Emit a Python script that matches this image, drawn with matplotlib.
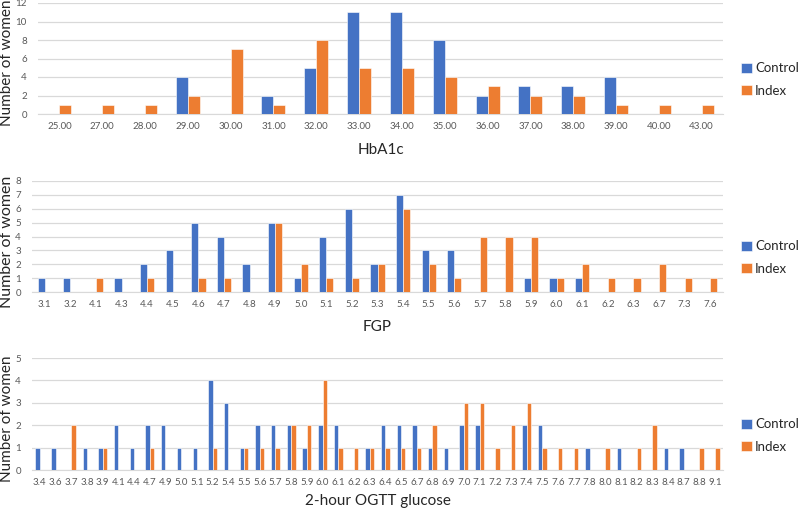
import matplotlib
matplotlib.use("Agg")
import matplotlib.pyplot as plt
import numpy as np

plt.rcParams['font.family'] = ['Lato', 'DejaVu Sans']

hba1c_cats = ["25.00", "27.00", "28.00", "29.00", "30.00", "31.00", "32.00", "33.00",
              "34.00", "35.00", "36.00", "37.00", "38.00", "39.00", "40.00", "43.00"]
hba1c_control = [0, 0, 0, 4, 0, 2, 5, 11, 11, 8, 2, 3, 3, 4, 0, 0]
hba1c_index = [1, 1, 1, 2, 7, 1, 8, 5, 5, 4, 3, 2, 2, 1, 1, 1]

fgp_cats = ["3.1", "3.2", "4.1", "4.3", "4.4", "4.5", "4.6", "4.7", "4.8", "4.9", "5.0",
            "5.1", "5.2", "5.3", "5.4", "5.5", "5.6", "5.7", "5.8", "5.9", "6.0", "6.1",
            "6.2", "6.3", "6.7", "7.3", "7.6"]
fgp_control = [1, 1, 0, 1, 2, 3, 5, 4, 2, 5, 1, 4, 6, 2, 7, 3, 3, 0, 0, 1, 1, 1, 0, 0, 0, 0, 0]
fgp_index = [0, 0, 1, 0, 1, 0, 1, 1, 0, 5, 2, 1, 1, 2, 6, 2, 1, 4, 4, 4, 1, 2, 1, 1, 2, 1, 1]

ogtt_cats = ["3.4", "3.6", "3.7", "3.8", "3.9", "4.1", "4.4", "4.7", "4.9", "5.0", "5.1",
             "5.2", "5.4", "5.5", "5.6", "5.7", "5.8", "5.9", "6.0", "6.1", "6.2", "6.3",
             "6.4", "6.5", "6.7", "6.8", "6.9", "7.0", "7.1", "7.2", "7.3", "7.4", "7.5",
             "7.6", "7.7", "7.8", "8.0", "8.1", "8.2", "8.3", "8.4", "8.7", "8.8", "9.1"]
ogtt_control = [1, 1, 0, 1, 1, 2, 1, 2, 2, 1, 1, 4, 3, 1, 2, 2, 2, 1, 2, 2, 0, 1,
                2, 2, 2, 1, 1, 2, 2, 0, 0, 2, 2, 0, 0, 1, 0, 1, 0, 0, 1, 1, 0, 0]
ogtt_index = [0, 0, 2, 0, 1, 0, 0, 1, 0, 0, 0, 1, 0, 1, 1, 1, 2, 2, 4, 1, 1, 1,
              1, 1, 1, 2, 0, 3, 3, 1, 2, 3, 1, 1, 1, 0, 1, 0, 1, 2, 0, 0, 1, 1]

BLUE = "#4472C4"
ORANGE = "#ED7D31"
GRID = "#D9D9D9"
TXT = "#595959"

W, H = 800, 509
fig = plt.figure(figsize=(W / 100, H / 100), dpi=100)

panels = [
    (hba1c_cats, hba1c_control, hba1c_index, "HbA1c", 12, 2, (38, 723, 3, 114), (67, 92), 150, 63, 11),
    (fgp_cats, fgp_control, fgp_index, "FGP", 8, 1, (32, 723, 181, 292), (245, 270), 327, 242, 11.5),
    (ogtt_cats, ogtt_control, ogtt_index, "2-hour OGTT glucose", 5, 1, (32, 723, 358, 470), (423, 448), 501, 419, 11),
]

for cats, ctrl, idx, xlab, ymax, ystep, (l, r, t, b), (ly1, ly2), xly, yly, yfs in panels:
    ax = fig.add_axes([l / W, 1 - b / H, (r - l) / W, (b - t) / H])
    x = np.arange(len(cats))
    bw = 0.28
    ax.bar(x - bw / 2, ctrl, width=bw, color=BLUE, edgecolor="white", linewidth=0.4,
           label="Control", zorder=3)
    ax.bar(x + bw / 2, idx, width=bw, color=ORANGE, edgecolor="white", linewidth=0.4,
           label="Index", zorder=3)
    ax.set_xlim(-0.5, len(cats) - 0.5)
    ax.set_ylim(0, ymax)
    ax.set_yticks(np.arange(0, ymax + 0.01, ystep))
    ax.set_xticks(x)
    ax.set_xticklabels(cats)
    ax.tick_params(axis="both", length=0, labelsize=7, colors=TXT, pad=6)
    ax.tick_params(axis="y", pad=8)
    ax.grid(axis="y", color=GRID, linewidth=0.9, zorder=0)
    for s in ["top", "right", "left"]:
        ax.spines[s].set_visible(False)
    ax.spines["bottom"].set_color(GRID)
    ax.set_ylabel("Number of women", fontsize=yfs, color="#262626")
    ax.yaxis.set_label_coords((14 - l) / (r - l), (b - yly) / (b - t))
    ax.set_xlabel(xlab, fontsize=11, color="#262626")
    ax.xaxis.set_label_coords(0.5, (b - xly) / (b - t))
    ax.xaxis.label.set_verticalalignment("center")
    leg = fig.legend(*ax.get_legend_handles_labels(), loc="center left",
                     bbox_to_anchor=(736 / W, 1 - ((ly1 + ly2) / 2) / H),
                     frameon=False, fontsize=9.5, handlelength=0.8, handleheight=0.8,
                     handletextpad=0.25, labelspacing=0.8, borderaxespad=0)
    for t_ in leg.get_texts():
        t_.set_color("#262626")

fig.savefig("out.png", dpi=100)
